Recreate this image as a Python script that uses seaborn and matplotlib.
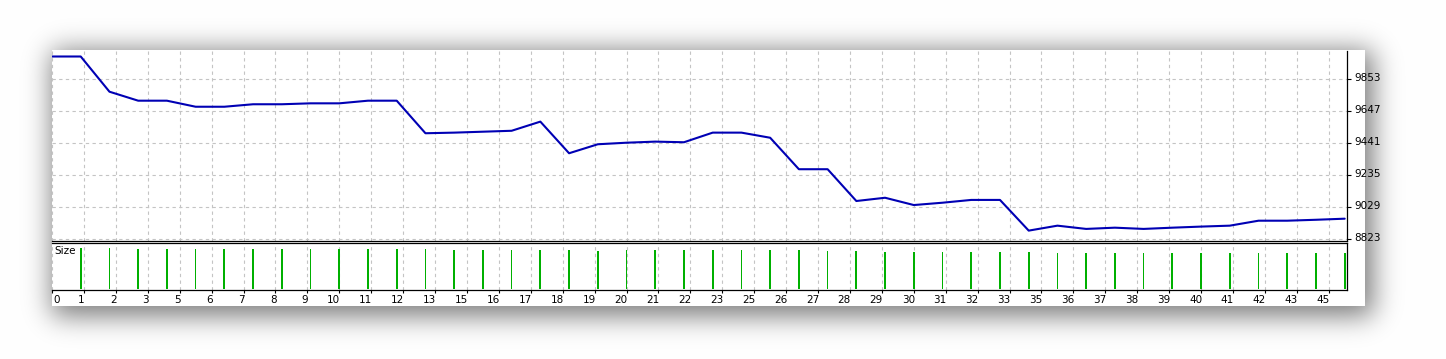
import math
import numpy as np
import matplotlib
matplotlib.use("Agg")
import matplotlib.pyplot as plt
import matplotlib.transforms as mtransforms
import seaborn as sns

# ---------------- data ----------------
trade_no = list(range(46))
balance = [10000, 10000, 9773, 9715, 9715, 9676, 9676, 9692, 9692, 9698,
           9698, 9715, 9715, 9505, 9509, 9515, 9521, 9580, 9376, 9434,
           9444, 9451, 9447, 9509, 9509, 9476, 9273, 9273, 9068, 9089,
           9042, 9057, 9075, 9075, 8877, 8909, 8888, 8896, 8888, 8896,
           8903, 8909, 8941, 8941, 8947, 8954]

size_trades = list(range(1, 46))
sizes = [0.41, 0.41, 0.40, 0.40, 0.40, 0.40, 0.40, 0.40, 0.40, 0.40,
         0.40, 0.40, 0.40, 0.387, 0.387, 0.387, 0.387, 0.387, 0.377, 0.39,
         0.387, 0.387, 0.387, 0.387, 0.387, 0.387, 0.377, 0.377, 0.367, 0.367,
         0.367, 0.367, 0.367, 0.367, 0.357, 0.357, 0.357, 0.357, 0.357, 0.357,
         0.357, 0.357, 0.357, 0.357, 0.357]

y_ticks = [8823, 9029, 9235, 9441, 9647, 9853]
x_tick_labels = ["0", "1", "2", "3", "5", "6", "7", "8", "9", "10", "11", "12",
                 "13", "15", "16", "17", "18", "19", "20", "21", "22", "23",
                 "25", "26", "27", "28", "29", "30", "31", "32", "33", "35",
                 "36", "37", "38", "39", "40", "41", "42", "43", "45"]

# ---------------- figure ----------------
W, H = 1446, 359
sns.set_theme(style="white")
plt.rcParams['font.family'] = ['DejaVu Sans']
fig = plt.figure(figsize=(W / 100, H / 100), dpi=100)
fig.patch.set_facecolor("white")

# background panel with soft drop shadow
bg = fig.add_axes([0, 0, 1, 1], zorder=0)
px0, px1, py0, py1 = 52, 1365, 50.5, 306
sx0, sx1, sy0, sy1 = px0, px1 + 8, py0, py1 + 10
s = 19.0
verf = np.vectorize(math.erf)
xs = np.arange(W) + 0.5
ys = np.arange(H) + 0.5
fx = 0.5 * (verf((xs - sx0) / s) - verf((xs - sx1) / s))
fy = 0.5 * (verf((ys - sy0) / s) - verf((ys - sy1) / s))
shade = 0.52 * np.outer(fy, fx)
gray = 1 - shade
yy, xx = np.meshgrid(ys, xs, indexing="ij")
inside = (xx >= px0) & (xx <= px1) & (yy >= py0) & (yy <= py1)
gray[inside] = 1.0
img = np.dstack([gray, gray, gray])
bg.imshow(img, extent=[0, W, H, 0], aspect="auto", interpolation="bilinear")
bg.set_xlim(0, W)
bg.set_ylim(H, 0)
bg.axis("off")

x_lo, x_hi = (52 - 50.5) / 28.76, (1347 - 50.5) / 28.76
grid_pos = np.arange(len(x_tick_labels)) * 10 / 9

# main balance axes
ax = fig.add_axes([52 / W, (H - 240.5) / H, 1295 / W, 190 / H], zorder=2)
ax.patch.set_alpha(0)
sns.lineplot(x=trade_no, y=balance, ax=ax, color="#0000b4", linewidth=1.5)
ax.set_xlim(x_lo, x_hi)
ax.set_ylim(8813.3, 10038.7)
ax.set_xticks(grid_pos)
ax.set_xticklabels([])
ax.tick_params(axis="x", length=0)
ax.yaxis.tick_right()
ax.set_yticks(y_ticks)
ax.set_yticklabels([str(v) for v in y_ticks])
ax.tick_params(axis="y", length=3, width=0.8, color="black", pad=2,
               labelsize=7.5, labelcolor="black", right=True, direction="out")
off_up = mtransforms.ScaledTranslation(0, 2 / 100, fig.dpi_scale_trans)
for lab in ax.get_yticklabels():
    lab.set_transform(lab.get_transform() + off_up)
ax.grid(True, color="#c4c4c4", linestyle=(0, (3, 3)), linewidth=0.8)
for sp in ["left", "top"]:
    ax.spines[sp].set_visible(False)
for sp in ["right", "bottom"]:
    ax.spines[sp].set_color("black")
    ax.spines[sp].set_linewidth(0.9)
ax.set_xlabel("")
ax.set_ylabel("")

# size axes
ax2 = fig.add_axes([52 / W, (H - 290) / H, 1295 / W, 47.5 / H], zorder=2)
ax2.patch.set_alpha(0)
sns.barplot(x=size_trades, y=sizes, ax=ax2, native_scale=True, width=0.06,
            color="#00b000", saturation=1, errorbar=None, linewidth=0)
for p in ax2.patches:
    p.set_antialiased(False)
ax2.set_xlim(x_lo, x_hi)
ax2.set_ylim(-0.013, 0.462)
ax2.set_yticks([])
ax2.set_xticks(grid_pos)
ax2.set_xticklabels(x_tick_labels)
ax2.tick_params(axis="x", length=2, width=0.8, color="black", pad=1.5,
                labelsize=7.5, labelcolor="black", bottom=True, direction="out")
shift = mtransforms.ScaledTranslation(1 / 100, 0, fig.dpi_scale_trans)
for i, lab in enumerate(ax2.get_xticklabels()):
    lab.set_ha("left" if i == 0 else "right")
    lab.set_transform(lab.get_transform() + shift)
ax2.grid(True, axis="x", color="#c4c4c4", linestyle=(0, (3, 3)), linewidth=0.8)
ax2.set_axisbelow(True)
ax2.spines["left"].set_visible(False)
for sp in ["right", "bottom", "top"]:
    ax2.spines[sp].set_color("black")
    ax2.spines[sp].set_linewidth(0.9)
ax2.set_xlabel("")
ax2.set_ylabel("")
ax2.text(2 / 1295, 1 - 3 / 47.5, "Size", transform=ax2.transAxes, va="top",
         ha="left", fontsize=7.5, color="black")

fig.savefig("out.png", dpi=100, facecolor="white")
